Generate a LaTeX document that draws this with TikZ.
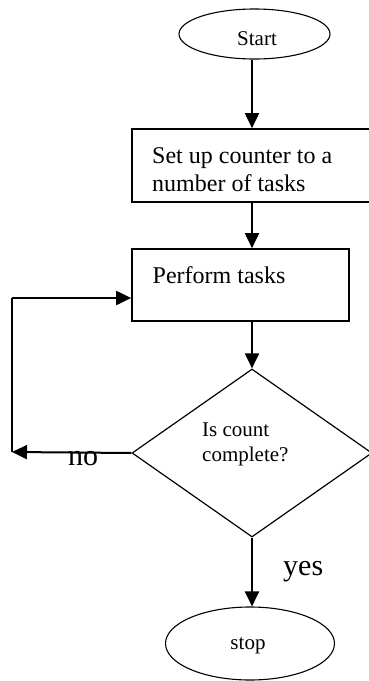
\documentclass[tikz,border=0pt]{standalone}
\usepackage{fontspec}
\setmainfont{Liberation Serif}
\usetikzlibrary{shapes.geometric,arrows.meta}

\begin{document}
\begin{tikzpicture}[x=1pt,y=-1pt,
  flow/.style={line width=2pt,-{Triangle[length=15pt,width=14pt]}},
  plainline/.style={line width=2pt},
  terminal/.style={draw,ellipse,line width=1.1pt,inner sep=0pt},
  process/.style={draw,rectangle,line width=1.7pt,inner sep=0pt},
  decision/.style={draw,diamond,line width=1.2pt,inner sep=0pt},
  bigtxt/.style={inner sep=0pt,font=\fontsize{24}{27.6}\selectfont},
  midtxt/.style={inner sep=0pt,font=\fontsize{21}{25}\selectfont},
  lbltxt/.style={inner sep=0pt,font=\fontsize{30}{34}\selectfont}]
\useasboundingbox (0,0) rectangle (368,681);

% flow column
\coordinate (col) at (252,0);

% shapes
\node[terminal,minimum width=151pt,minimum height=50pt] (start) at (254.5,34) {};
\node[process,minimum width=239pt,minimum height=73pt] (setup) at (251.5,165.5) {};
\node[process,minimum width=217pt,minimum height=72pt] (perform) at (240.5,285) {};
\node[decision,minimum width=240pt,minimum height=168pt] (check) at (252,453) {};
\node[terminal,minimum width=169pt,minimum height=73pt] (stop) at (250,643.5) {};

% texts
\node[midtxt,anchor=base] (starttxt) at (257,45.5) {Start};
\node[bigtxt,anchor=north west,align=left] (setuptxt) at (152,147.5) {Set up counter to a\\number of tasks};
\node[bigtxt,anchor=base west] (performtxt) at (152.5,283) {Perform tasks};
\node[midtxt,anchor=north west,align=left] (checktxt) at (202,423) {Is count\\complete?};
\node[midtxt,anchor=base] (stoptxt) at (248,649) {stop};

% main flow
\draw[flow] (start.south -| col) -- (setup.north -| col);
\draw[flow] (setup.south -| col) -- (perform.north -| col);
\draw[flow] (perform.south -| col) -- (check.north);
\draw[flow] (check.south) -- (stop.north -| col);

% loop back
\coordinate (loopdown) at (12,452);
\coordinate (loopup) at (12,298);
\draw[flow] (check.west) -- (loopdown);
\draw[plainline] (loopdown) -- (loopup);
\draw[flow] (loopup) -- (loopup -| perform.west);

% branch labels
\node[lbltxt,anchor=base west] (nolbl) at (68,465) {no};
\node[lbltxt,anchor=base west] (yeslbl) at (283,575) {yes};
\end{tikzpicture}
\end{document}
